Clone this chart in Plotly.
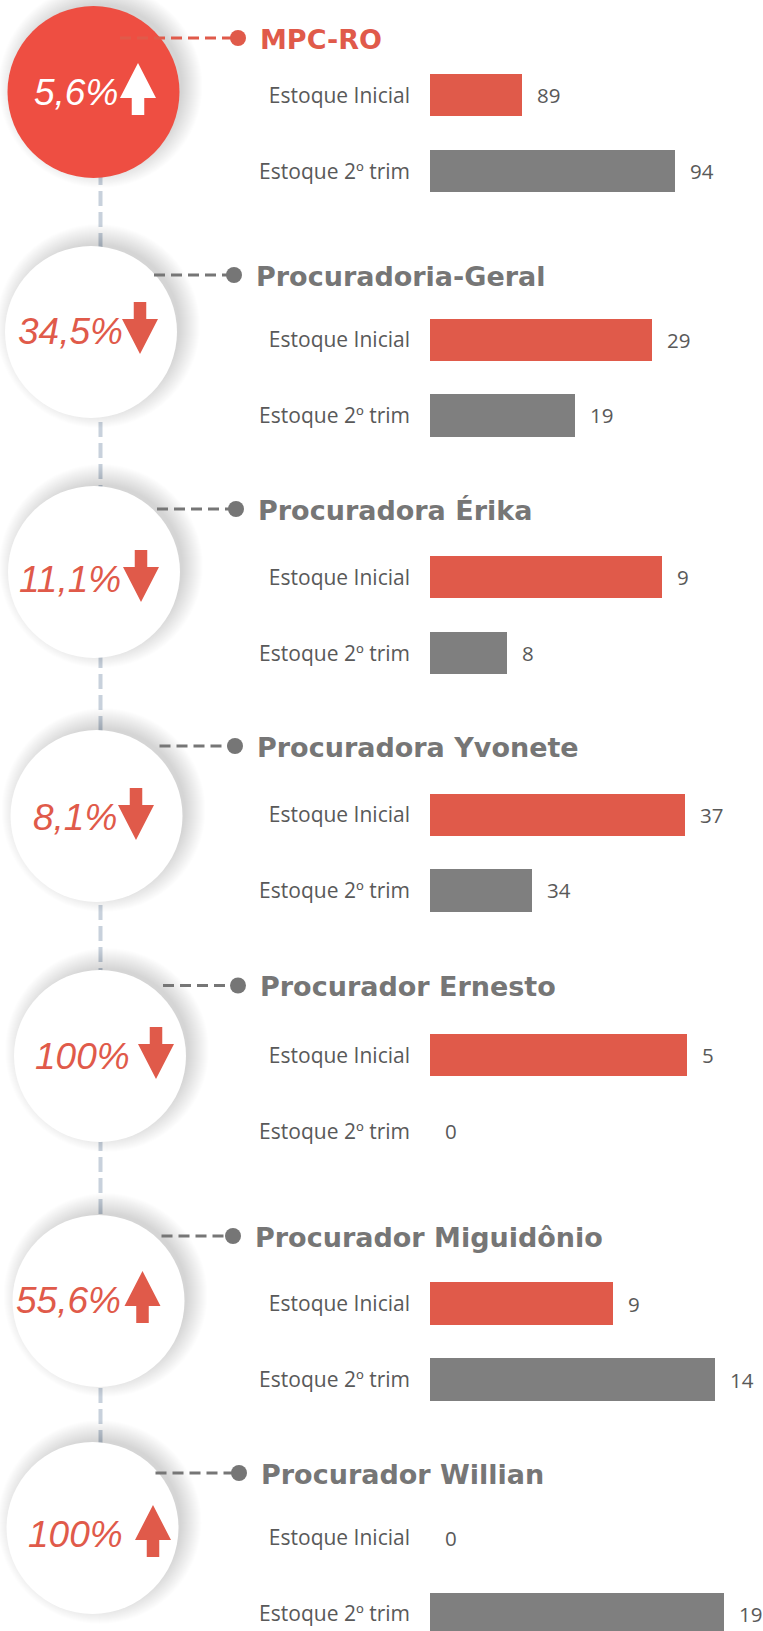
import plotly.graph_objects as go

W, H = 763, 1631

# ---------------- data ----------------
panels = ["MPC-RO", "Procuradoria-Geral", "Procuradora Érika", "Procuradora Yvonete",
          "Procurador Ernesto", "Procurador Miguidônio", "Procurador Willian"]
categories = ["Estoque Inicial", "Estoque 2º trim"]
estoque_inicial = [89, 29, 9, 37, 5, 9, 0]
estoque_2trim = [94, 19, 8, 34, 0, 14, 19]
variacao = ["5,6%", "34,5%", "11,1%", "8,1%", "100%", "55,6%", "100%"]
direcao = ["up", "down", "down", "down", "down", "up", "up"]

# ---------------- layout settings (pixels) ----------------
axis_min = [86, 0, 7.5, 32, 0, 0, 0]
axis_max = [96.47, 41.84, 9.567, 38.275, 6.223, 15.71, 20.71]
bar_rows = [(95.3, 171.3), (339.5, 415.3), (577.4, 653.3), (814.5, 890.3),
            (1055.3, 1131.3), (1303.5, 1380.0), (1538.0, 1614.0)]
title_pos = [(258, 38), (254, 275), (256, 509), (255, 746), (258, 985.5), (253, 1236), (259, 1473)]
circle_pos = [(93.5, 92), (91, 332), (94, 572), (96.5, 816), (100, 1056), (98.5, 1301), (92.5, 1528)]
pct_pos = [(120, 92, 138), (125, 331, 140), (123, 579, 141), (119, 817, 136),
           (132, 1056, 156), (123, 1300, 142.5), (125, 1534, 153)]
R = 86
X0, X1 = 430, 750

RED = "#E05A4A"
RED_CIRCLE = "#EE4E42"
GRAY_BAR = "#7F7F7F"
TITLE_GRAY = "#767676"
LABEL_GRAY = "#595959"


def px(x, y):
    return x / W, 1 - y / H


fig = go.Figure()
shapes = []
annotations = []

# vertical dashed connector (behind circles)
vx0, vy0 = px(100.5, 170)
vx1, vy1 = px(100.5, 1450)
shapes.append(dict(type="line", xref="paper", yref="paper", x0=vx0, y0=vy0, x1=vx1, y1=vy1,
                   line=dict(color="#C8D1DC", width=4, dash="15px,6px")))

layout_axes = {}
for i in range(len(panels)):
    k = "" if i == 0 else str(i + 1)
    y1, y2 = bar_rows[i]
    pitch = y2 - y1
    top = y1 - pitch / 2
    bot = min(y2 + pitch / 2, H)
    rng_bottom = -0.5 + (bot - top) / pitch
    vals = [estoque_inicial[i], estoque_2trim[i]]
    fig.add_trace(go.Bar(
        y=categories, x=vals, orientation="h",
        marker=dict(color=[RED, GRAY_BAR], line=dict(width=0)),
        width=42.6 / pitch,
        xaxis="x" + k, yaxis="y" + k, showlegend=False, hoverinfo="skip",
    ))
    layout_axes["xaxis" + k] = dict(domain=[X0 / W, X1 / W], range=[axis_min[i], axis_max[i]],
                                    visible=False, anchor="y" + k, fixedrange=True)
    layout_axes["yaxis" + k] = dict(domain=[max(0.0, 1 - bot / H), 1 - top / H], anchor="x" + k,
                                    type="category", categoryarray=categories,
                                    range=[rng_bottom, -0.5], showgrid=False, zeroline=False,
                                    showline=False, ticks="", ticklabelstandoff=19,
                                    tickfont=dict(family="Open Sans", size=21, color=LABEL_GRAY),
                                    fixedrange=True)
    # value labels
    for c, v in zip(categories, vals):
        annotations.append(dict(xref="x" + k, yref="y" + k, x=v, y=c, text=str(v),
                                xanchor="left", yanchor="middle", xshift=13, showarrow=False,
                                font=dict(family="Open Sans", size=20.5, color=LABEL_GRAY)))

    # circle with soft shadow (offset up-right)
    cx, cy = circle_pos[i]
    for s in range(16, -5, -1):
        rr = R + s
        ax0, ay0 = px(cx + 7 - rr, cy - 6 - rr)
        ax1, ay1 = px(cx + 7 + rr, cy - 6 + rr)
        shapes.append(dict(type="circle", xref="paper", yref="paper",
                           x0=ax0, x1=ax1, y0=ay1, y1=ay0,
                           fillcolor="rgba(0,0,0,0.009)", line=dict(width=0)))
    ax0, ay0 = px(cx - R, cy - R)
    ax1, ay1 = px(cx + R, cy + R)
    shapes.append(dict(type="circle", xref="paper", yref="paper",
                       x0=ax0, x1=ax1, y0=ay1, y1=ay0,
                       fillcolor=RED_CIRCLE if i == 0 else "white", line=dict(width=0)))

    # horizontal dashed connector + dot
    tx, ty = title_pos[i]
    col = RED if i == 0 else TITLE_GRAY
    lx_start = 120 if i == 0 else cx + 63
    hx0, hy = px(lx_start, ty)
    hx1, _ = px(tx - 24, ty)
    shapes.append(dict(type="line", xref="paper", yref="paper", x0=hx0, x1=hx1, y0=hy, y1=hy,
                       line=dict(color=col, width=3, dash="11px,6px")))
    dx0, dy0 = px(tx - 28, ty - 8)
    dx1, dy1 = px(tx - 12, ty + 8)
    shapes.append(dict(type="circle", xref="paper", yref="paper", x0=dx0, x1=dx1, y0=dy1, y1=dy0,
                       fillcolor=col, line=dict(width=0)))
    atx, aty = px(tx, ty + 1)
    annotations.append(dict(xref="paper", yref="paper", x=atx, y=aty, text="<b>%s</b>" % panels[i],
                            xanchor="left", yanchor="middle", showarrow=False,
                            font=dict(family="DejaVu Sans", size=27, color=col)))

    # percentage text + arrow
    prx, pcy, acx = pct_pos[i]
    pcol = "white" if i == 0 else RED
    ptx, pty = px(prx, pcy)
    annotations.append(dict(xref="paper", yref="paper", x=ptx, y=pty, text="<i>%s</i>" % variacao[i],
                            xanchor="right", yanchor="middle", showarrow=False,
                            font=dict(family="Liberation Sans", size=37, color=pcol)))
    acy = pcy - 3
    total, head_h, head_w, shaft_w = 52, 35, 36, 12.5
    t, b = acy - total / 2, acy + total / 2
    if direcao[i] == "up":
        pts = [(acx, t), (acx + head_w / 2, t + head_h), (acx + shaft_w / 2, t + head_h),
               (acx + shaft_w / 2, b), (acx - shaft_w / 2, b), (acx - shaft_w / 2, t + head_h),
               (acx - head_w / 2, t + head_h)]
    else:
        pts = [(acx, b), (acx + head_w / 2, b - head_h), (acx + shaft_w / 2, b - head_h),
               (acx + shaft_w / 2, t), (acx - shaft_w / 2, t), (acx - shaft_w / 2, b - head_h),
               (acx - head_w / 2, b - head_h)]
    path = "M " + " L ".join("%.5f,%.5f" % px(x, y) for x, y in pts) + " Z"
    shapes.append(dict(type="path", xref="paper", yref="paper", path=path,
                       fillcolor=pcol, line=dict(width=0)))

fig.update_layout(
    width=W, height=H, autosize=False,
    margin=dict(l=0, r=0, t=0, b=0),
    paper_bgcolor="white", plot_bgcolor="white",
    shapes=shapes, annotations=annotations,
    bargap=0, showlegend=False,
    **layout_axes,
)

fig.write_html("out.html", config={"displayModeBar": False},
               post_script="document.body.style.margin='0px';")
